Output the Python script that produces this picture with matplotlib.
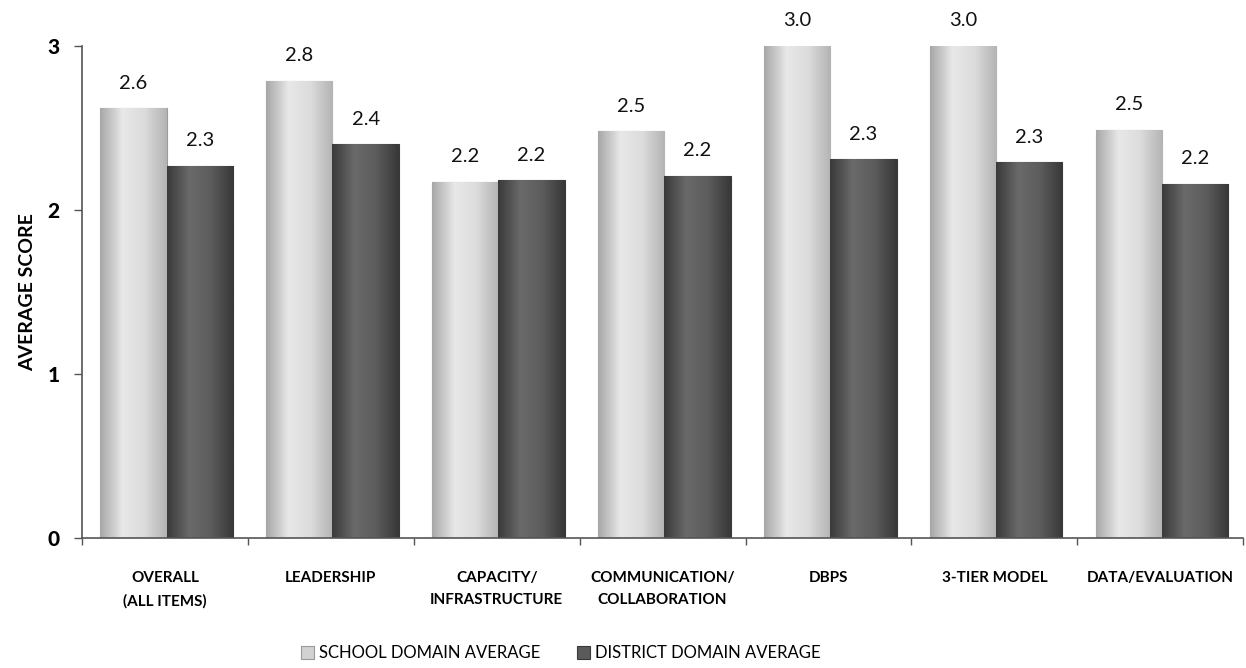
import numpy as np
import matplotlib
matplotlib.use("Agg")
import matplotlib.pyplot as plt
from matplotlib.colors import LinearSegmentedColormap

categories = ["OVERALL\n(ALL ITEMS)", "LEADERSHIP", "CAPACITY/\nINFRASTRUCTURE",
              "COMMUNICATION/\nCOLLABORATION", "DBPS", "3-TIER MODEL", "DATA/EVALUATION"]
school = [2.62, 2.79, 2.17, 2.48, 3.0, 3.0, 2.49]
district = [2.27, 2.40, 2.18, 2.21, 2.31, 2.29, 2.16]
school_labels = ["2.6", "2.8", "2.2", "2.5", "3.0", "3.0", "2.5"]
district_labels = ["2.3", "2.4", "2.2", "2.2", "2.3", "2.3", "2.2"]
yticks = [0, 1, 2, 3]

plt.rcParams['font.family'] = ['Lato', 'DejaVu Sans']

fig = plt.figure(figsize=(12.46, 6.68), dpi=100)
ax = fig.add_axes([0.0658, 0.195, 0.932, 0.736])

x = np.arange(len(categories))
w = 0.4
b1 = ax.bar(x - w / 2 + 0.01, school, w, color="#d2d2d2", edgecolor="#9a9a9a", linewidth=0.8,
            label="SCHOOL DOMAIN AVERAGE", zorder=2)
b2 = ax.bar(x + w / 2 + 0.01, district, w, color="#5a5a5a", edgecolor="#3a3a3a", linewidth=0.8,
            label="DISTRICT DOMAIN AVERAGE", zorder=2)

# cylinder-like shading
cm_light = LinearSegmentedColormap.from_list("l", ["#a8a8a8", "#e8e8e8", "#dcdcdc", "#b4b4b4"])
cm_dark = LinearSegmentedColormap.from_list("d", ["#3a3a3a", "#6a6a6a", "#5c5c5c", "#383838"])
grad = np.linspace(0, 1, 64).reshape(1, -1)
for bars, cmap in ((b1, cm_light), (b2, cm_dark)):
    for p in bars:
        im = ax.imshow(grad, cmap=cmap, aspect="auto", zorder=2.5,
                       extent=(p.get_x(), p.get_x() + p.get_width(), 0, p.get_height()))
        im.set_clip_path(p)

for bars, labs in ((b1, school_labels), (b2, district_labels)):
    for p, t in zip(bars, labs):
        ax.annotate(t, (p.get_x() + p.get_width() / 2, p.get_height()),
                    xytext=(0, 12), textcoords="offset points", ha="center", va="bottom",
                    fontsize=14.5, color="#111111", annotation_clip=False)

ax.set_xlim(-0.5, len(categories) - 0.5)
ax.set_ylim(0, 3)
ax.set_yticks(yticks)
ax.set_yticklabels([str(v) for v in yticks], fontsize=15, fontweight="black")
ax.set_xticks(np.arange(len(categories) + 1) - 0.5)
ax.set_xticklabels([])
ax.set_xticks(x, minor=True)
ax.set_xticklabels(categories, minor=True, fontsize=11, fontweight="bold", linespacing=1.75)
ax.tick_params(axis="x", which="minor", length=0, pad=24)
ax.tick_params(axis="x", which="major", length=5, width=1, color="#555555")
ax.tick_params(axis="y", length=6, width=1, color="#555555", pad=10)
for s in ("top", "right"):
    ax.spines[s].set_visible(False)
for s in ("left", "bottom"):
    ax.spines[s].set_color("#555555")
    ax.spines[s].set_linewidth(1.2)
ax.set_ylabel("AVERAGE SCORE", fontsize=14, fontweight="bold", labelpad=8)
ax.set_xlabel("")

leg = fig.legend(handles=[b1, b2], loc="center", bbox_to_anchor=(0.45, 0.022), ncol=2,
                 frameon=False, fontsize=12, handlelength=0.8, handleheight=0.8,
                 handletextpad=0.3, columnspacing=2.2)

fig.savefig("out.png", dpi=100)
